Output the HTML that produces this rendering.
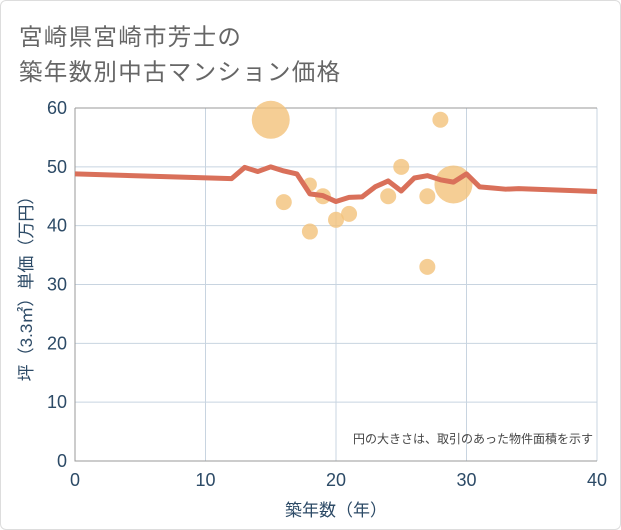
<!DOCTYPE html>
<html><head><meta charset="utf-8"><style>
body{margin:0;background:#fff;}
#wrap{position:relative;width:619px;height:528px;border:1px solid #ddd;border-radius:6px;background:#fff;overflow:hidden;}
.t{position:absolute;left:18px;font:23.5px "Liberation Sans","Noto Sans CJK JP",sans-serif;color:#666;letter-spacing:1.3px}
svg text{font-family:"Liberation Sans","Noto Sans CJK JP",sans-serif;}
</style></head><body>
<div id="wrap">
<div class="t" style="top:17px">宮崎県宮崎市芳士の</div>
<div class="t" style="top:52px">築年数別中古マンション価格</div>
<svg id="c" width="621" height="530" style="position:absolute;left:-1px;top:-1px"></svg>
</div>
<script>
const lineX=[0,12,13,14,15,16,17,18,19,20,21,22,23,24,25,26,27,28,29,30,31,32,33,34,40];
const lineY=[48.8,48.0,49.9,49.2,50.0,49.3,48.8,45.4,45.1,44.1,44.8,44.9,46.6,47.6,45.9,48.1,48.5,47.8,47.4,48.8,46.6,46.4,46.2,46.3,45.8];
const bubX=[15,28,25,29,18,19,16,24,27,21,20,18,27];
const bubY=[58,58,50,47,47,45,44,45,45,42,41,39,33];
const bubR=[19,8,8,19,7,8,8,8,8,8,8,8,8];
const xTicks=[0,10,20,30,40];
const yTicks=[0,10,20,30,40,50,60];
const L=75,R=597,T=108,B=461;
const sx=v=>L+(v/40)*(R-L), sy=v=>B-(v/60)*(B-T);
const svg=document.getElementById('c');const NS='http://www.w3.org/2000/svg';
function mk(t,a,p){const e=document.createElementNS(NS,t);for(const k in a)e.setAttribute(k,a[k]);(p||svg).appendChild(e);return e;}
yTicks.forEach(v=>{const l=mk('line',{x1:L,x2:R,y1:sy(v),y2:sy(v),stroke:'#c8d4e0','stroke-width':1});


const t=mk('text',{x:L-8,y:sy(v)+6,'text-anchor':'end','font-size':18,fill:'#2c4a66'});t.textContent=v;

});
xTicks.forEach(v=>{const l=mk('line',{x1:sx(v),x2:sx(v),y1:T,y2:B,stroke:'#c8d4e0','stroke-width':1});


const t=mk('text',{x:sx(v),y:B+25,'text-anchor':'middle','font-size':18,fill:'#2c4a66'});t.textContent=v;

});
const ax=mk('path',{d:`M${L},${T}H${R}M${L},${T}V${B}H${R}`,stroke:'#999',fill:'none','stroke-width':1});


bubX.forEach((x,i)=>{const c=mk('circle',{cx:sx(x),cy:sy(bubY[i]),r:bubR[i],fill:'#f2c27a','fill-opacity':0.8});

});
const pl=mk('polyline',{points:lineX.map((x,i)=>sx(x)+','+sy(lineY[i])).join(' '),fill:'none',stroke:'#d9705a','stroke-width':5,'stroke-linejoin':'round'});


const n=mk('text',{x:R-4,y:B-18,'text-anchor':'end','font-size':12,fill:'#444'});n.textContent='円の大きさは、取引のあった物件面積を示す';


const xt=mk('text',{x:(L+R)/2,y:B+55,'text-anchor':'middle','font-size':17,fill:'#2c4a66'});xt.textContent='築年数（年）';


const yt=mk('text',{x:0,y:0,'text-anchor':'middle','font-size':17,fill:'#2c4a66',transform:`translate(32,${(T+B)/2}) rotate(-90)`});yt.textContent='坪（3.3㎡）単価（万円）';


</script>
</body></html>
